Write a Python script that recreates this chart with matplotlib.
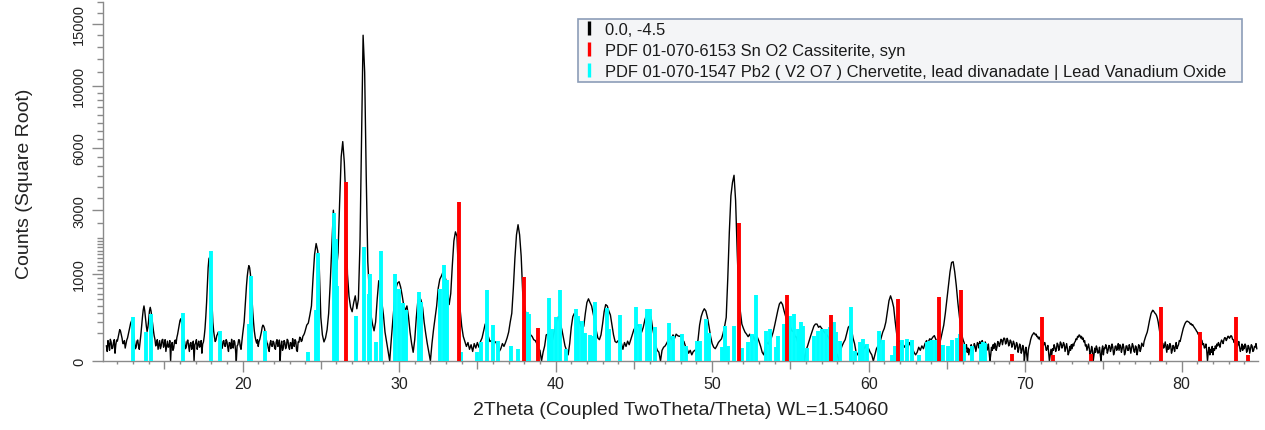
import numpy as np
import matplotlib
matplotlib.use("Agg")
import matplotlib.pyplot as plt
from matplotlib.lines import Line2D
from matplotlib.ticker import FixedLocator, NullFormatter

plt.rcParams['font.family'] = ['Liberation Sans', 'DejaVu Sans']

# measured scan, read off the picture in three stretches:
# flat noisy parts on a 0.05 deg grid, the peak-rich middle on a 0.1 deg grid
bg_low_start, bg_low_step = 11.3, 0.05
counts_11_23 = [
    30, 12, 55, 38, 15, 62, 48, 20, 22, 45, 60, 8, 35, 58,
    52, 75, 100, 130, 118, 90, 68, 40, 40, 55, 22, 38, 58, 70, 95, 125, 160, 190, 210, 220,
    140, 85, 48, 20, 25, 52, 58, 30, 18, 45, 90, 160, 250, 340, 400, 330, 240, 160, 115, 150,
    220, 330, 380, 330, 255, 180, 125, 85, 62, 30, 40, 60, 18, 35, 55, 20, 30, 58, 62, 25,
    38, 60, 12, 30, 52, 25, 28, 55, 0, 35, 45, 15, 22, 50, 58, 40, 72, 95, 130, 175,
    215, 235, 200, 140, 88, 60, 48, 20, 25, 50, 58, 30, 12, 40, 45, 18, 28, 52, 0, 35,
    42, 60, 18, 35, 52, 25, 30, 55, 8, 38, 48, 80, 140, 260, 450, 750, 1150, 1380, 1420, 1200,
    800, 420, 200, 120, 78, 50, 58, 85, 95, 110, 100, 70, 42, 20, 22, 50, 55, 30, 28, 60,
    50, 25, 12, 45, 42, 20, 62, 35, 22, 55, 48, 15, 0, 30, 35, 60, 58, 28, 18, 48,
    90, 140, 200, 350, 550, 750, 950, 1100, 1200, 1150, 1000, 750, 500, 320, 200, 120, 78, 55, 42, 60,
    28, 50, 62, 85, 110, 150, 170, 160, 140, 100, 68, 45, 38, 20, 12, 40, 55, 30, 28, 52,
    45, 22, 18, 48, 60, 28, 32, 58, 0, 30, 52, 15, 22, 55, 46, 20, 28, 62, 56, 25,
    18, 45, 42, 20, 66, 35, 28, 60, 52, 15, 12, 48, 46, 75, 70, 50, 55, 80, 88, 100,
]

mid_start, mid_step = 24.0, 0.1
counts_24_29 = [
    120, 170, 190, 280, 400, 900, 1500, 1820, 1600, 1150,
    250, 90, 48, 70, 130, 300, 800, 1700, 3000, 2300,
    1100, 1550, 3300, 5500, 6350, 5200, 3300, 1000, 550, 380,
    320, 450, 560, 360, 500, 1800, 6500, 14000, 11000, 4500,
    1300, 600, 280, 180, 120, 200, 500, 850, 750, 450,
    280, 110, 50, 15, 0, 60, 220, 450, 700, 800,
]
counts_30_39 = [
    830, 720, 560, 400, 340, 400, 260, 110, 40, 10,
    60, 250, 480, 540, 490, 380, 200, 100, 40, 10,
    0, 40, 130, 250, 400, 700, 880, 950, 1040, 980,
    850, 650, 420, 600, 1200, 1900, 2200, 2050, 900, 350,
    160, 80, 50, 28, 45, 18, 35, 12, 40, 22,
    45, 25, 50, 70, 120, 180, 150, 80, 50, 55,
    35, 50, 45, 22, 12, 20, 40, 28, 45, 70,
    110, 200, 300, 700, 1400, 2100, 2450, 2100, 1450, 600,
    420, 290, 220, 150, 90, 80, 60, 55, 40, 20,
    15, 0, 10, 30, 90, 95, 70, 50, 60, 110,
]
counts_40_49 = [
    170, 240, 260, 180, 130, 70, 30, 15, 5, 40,
    150, 260, 300, 270, 240, 220, 170, 140, 160, 300,
    450, 510, 450, 400, 300, 210, 120, 70, 60, 90,
    180, 320, 420, 400, 330, 280, 170, 90, 50, 45,
    55, 32, 42, 18, 45, 28, 52, 35, 60, 90,
    130, 150, 170, 170, 130, 110, 150, 220, 280, 330,
    300, 250, 140, 80, 30, 15, 10, 0, 15, 25,
    30, 42, 58, 75, 60, 90, 68, 95, 85, 80,
    85, 58, 50, 28, 20, 8, 15, 5, 12, 15,
    20, 60, 170, 260, 320, 360, 330, 250, 160, 80,
]
counts_50_59 = [
    40, 25, 20, 30, 45, 55, 65, 100, 160, 250,
    900, 2200, 3600, 4200, 4550, 3400, 1600, 600, 330, 180,
    140, 110, 95, 78, 95, 68, 85, 58, 90, 72,
    50, 28, 10, 5, 25, 45, 38, 60, 75, 110,
    170, 250, 340, 430, 460, 420, 330, 260, 200, 170,
    150, 120, 115, 78, 75, 35, 38, 12, 18, 0,
    15, 30, 55, 85, 120, 160, 180, 180, 150, 160,
    140, 120, 105, 95, 80, 60, 50, 35, 20, 10,
    5, 0, 15, 30, 45, 60, 100, 150, 165, 140,
    70, 40, 10, 5, 15, 25, 15, 20, 30, 15,
]
counts_60_65 = [
    20, 10, 5, 0, 5, 20, 30, 40, 70, 110,
    140, 200, 330, 480, 560, 480, 380, 200, 90, 60,
    45, 30, 35, 25, 40, 20, 45, 30, 20, 10,
    5, 10, 25, 15, 30, 20, 40, 55, 45, 65,
    60, 75, 85, 60, 50, 35, 60, 110, 170, 300,
    500, 750, 1050, 1280, 1300, 1050, 750, 450, 260, 130,
]

bg_high_start, bg_high_step = 66.0, 0.05
counts_66_84 = [
    70, 55, 45, 28, 20, 35, 10, 22, 5, 18, 15, 35, 25, 8, 20, 40, 30, 12, 25, 45,
    40, 22, 50, 30, 35, 55, 45, 18, 30, 48, 35, 15, 20, 38, 10, 0, 5, 25, 15, 35,
    20, 42, 35, 15, 25, 50, 45, 28, 40, 62, 60, 35, 55, 70, 65, 38, 45, 68, 55, 30,
    40, 58, 50, 25, 35, 52, 40, 18, 25, 45, 35, 10, 20, 38, 30, 8, 15, 32, 20, 0,
    10, 25, 5, 0, 15, 28, 40, 60, 75, 88, 95, 105, 100, 90, 95, 78, 80, 65, 75, 60,
    60, 40, 50, 32, 35, 45, 30, 15, 20, 32, 10, 0, 5, 18, 5, 20, 15, 35, 25, 12,
    20, 42, 35, 15, 25, 48, 40, 22, 30, 45, 35, 12, 25, 40, 20, 5, 10, 28, 15, 35,
    20, 38, 30, 45, 50, 65, 60, 80, 75, 90, 85, 70, 80, 62, 70, 48, 55, 30, 35, 15,
    25, 38, 20, 5, 10, 28, 15, 0, 5, 22, 10, 30, 20, 8, 10, 25, 5, 0, 15, 30,
    5, 22, 20, 35, 25, 8, 15, 32, 30, 12, 20, 38, 25, 5, 10, 28, 30, 15, 20, 40,
    15, 35, 30, 10, 20, 38, 25, 5, 10, 30, 30, 15, 15, 35, 25, 8, 20, 40, 30, 12,
    10, 30, 25, 5, 15, 35, 30, 12, 20, 42, 35, 28, 50, 65, 80, 95, 110, 140, 180, 220,
    260, 300, 320, 340, 330, 315, 300, 290, 270, 240, 200, 150, 110, 80, 60, 45, 40, 22, 30, 48,
    25, 10, 35, 18, 20, 40, 30, 8, 15, 32, 25, 12, 30, 45, 20, 28, 35, 55, 50, 70,
    90, 115, 140, 160, 180, 195, 205, 210, 205, 200, 195, 180, 185, 170, 175, 160, 150, 140, 130, 118,
    110, 95, 90, 70, 80, 60, 55, 35, 40, 22, 25, 38, 15, 0, 10, 25, 5, 18, 10, 28,
    5, 20, 15, 30, 20, 38, 30, 45, 35, 25, 45, 58, 50, 40, 60, 72, 70, 55, 65, 80,
    80, 68, 75, 85, 80, 62, 60, 45, 55, 38, 45, 28, 35, 50, 25, 12, 20, 38, 15, 30,
    20, 38, 30, 10, 15, 32, 25, 8, 20, 35, 30, 12, 15, 28, 25, 40, 20,
]

# PDF 01-070-6153 SnO2 cassiterite stick pattern
cass_pos = [26.61, 33.80, 37.97, 38.90, 51.72, 54.77, 57.58, 61.90, 64.50,
            65.90, 69.18, 71.05, 71.76, 74.19, 78.66, 81.15, 83.48, 84.22]
cass_int = [4227, 3350, 925, 144, 2520, 575, 283, 507, 545,
            665, 7, 252, 4, 6, 380, 113, 252, 5]

# PDF 01-070-1547 Pb2V2O7 chervetite stick pattern
cherv_pos = [12.98, 13.80, 14.15, 16.17, 17.96, 18.56, 20.42, 20.53, 21.45,
             24.21, 24.66, 24.84, 25.83, 25.98, 26.06, 27.23, 27.77, 28.07,
             28.12, 28.53, 28.83, 29.77, 30.00, 30.22, 30.45, 31.25, 31.42,
             32.60, 32.90, 33.03, 33.94, 34.96, 35.22, 35.60, 36.02, 36.34,
             37.14, 37.62, 38.15, 38.30, 39.55, 39.75, 40.03, 40.30, 40.68,
             41.30, 41.45, 41.70, 41.88, 42.20, 42.37, 42.52, 43.27, 43.44,
             44.10, 45.14, 45.37, 45.87, 46.01, 46.38, 47.27, 47.48, 48.09,
             48.30, 49.02, 49.23, 49.62, 49.78, 50.61, 50.82, 51.03, 51.42,
             51.94, 52.31, 52.53, 52.79, 53.43, 53.70, 54.06, 54.19, 54.58,
             54.98, 55.25, 55.51, 55.70, 55.82, 56.05, 56.50, 56.76, 57.04,
             57.27, 57.54, 57.80, 57.92, 58.15, 58.87, 59.13, 59.45, 59.64,
             59.90, 60.69, 60.92, 61.47, 61.68, 61.88, 62.15, 62.44, 62.78,
             63.24, 63.71, 63.85, 64.06, 64.29, 64.62, 64.78, 65.08, 65.32,
             65.63, 65.82, 66.08, 66.62, 67.15, 67.30, 67.45]
cherv_int = [255, 110, 291, 302, 1605, 118, 176, 960, 121,
             10, 345, 1550, 2900, 1975, 740, 265, 1706, 600,
             999, 48, 1595, 999, 678, 440, 340, 634, 455,
             684, 1216, 870, 11, 11, 46, 660, 170, 54,
             30, 19, 313, 291, 521, 135, 252, 660, 19,
             357, 271, 214, 100, 90, 84, 455, 373, 135,
             275, 380, 180, 357, 357, 150, 194, 84, 96,
             31, 54, 54, 230, 100, 25, 157, 31, 164,
             23, 50, 96, 575, 120, 135, 25, 84, 181,
             265, 291, 135, 197, 164, 22, 84, 120, 135,
             137, 150, 198, 108, 55, 380, 14, 46, 64,
             37, 121, 59, 4, 31, 50, 59, 66, 59,
             4, 46, 51, 59, 60, 35, 34, 31, 59,
             68, 96, 40, 31, 40, 48, 45]

legend_labels = ['0.0, -4.5',
                 'PDF 01-070-6153 Sn O2 Cassiterite, syn',
                 'PDF 01-070-1547 Pb2 ( V2 O7 ) Chervetite, lead divanadate | Lead Vanadium Oxide']

y_major = [0, 1000, 3000, 6000, 10000, 15000]
x_major = [20, 30, 40, 50, 60, 70, 80]

counts_mid = np.concatenate([counts_24_29, counts_30_39, counts_40_49,
                             counts_50_59, counts_60_65])
tt_low = bg_low_start + bg_low_step * np.arange(len(counts_11_23))
tt_mid = mid_start + mid_step * np.arange(len(counts_mid))
tt_high = bg_high_start + bg_high_step * np.arange(len(counts_66_84))
two_theta = np.concatenate([tt_low, tt_mid, tt_high])
counts = np.concatenate([counts_11_23, counts_mid, counts_66_84])

fig = plt.figure(figsize=(12.65, 4.31), dpi=100)
ax = fig.add_axes([0.0814, 0.1601, 0.9131, 0.8329])

ax.plot(two_theta, counts, color='black', lw=1.0, zorder=2)
ax.vlines(cherv_pos, 0, cherv_int, color='#00FFFF', lw=2.8, capstyle='butt', zorder=3)
ax.vlines(cass_pos, 0, cass_int, color='#FF0000', lw=2.8, capstyle='butt', zorder=4)

ax.set_yscale('function', functions=(lambda v: np.sqrt(np.clip(v, 0, None)), np.square))
ax.set_ylim(0, 17000)
ax.set_xlim(11.08, 84.88)

for s in ['top', 'right']:
    ax.spines[s].set_visible(False)
for s in ['left', 'bottom']:
    ax.spines[s].set_color('#8a8a8a')
    ax.spines[s].set_linewidth(1.0)

ax.set_yticks(y_major)
ax.set_yticklabels([str(v) for v in y_major], rotation=90, va='center')
minor_y = [v for v in range(100, 2000, 100) if v != 1000] + \
          [v for v in range(2000, 10000, 500) if v not in (3000, 6000)] + \
          [v for v in range(11000, 18000, 1000) if v != 15000]
ax.yaxis.set_minor_locator(FixedLocator(minor_y))
ax.yaxis.set_minor_formatter(NullFormatter())

ax.set_xticks(x_major)
ax.xaxis.set_minor_locator(FixedLocator([v for v in range(12, 85) if v % 5 != 0]))
ax.xaxis.set_minor_formatter(NullFormatter())

ax.tick_params(axis='both', which='both', color='#8a8a8a', width=1.0, direction='out')
ax.tick_params(axis='x', which='major', length=8, pad=3, labelsize=11.5, labelcolor='#222222')
ax.tick_params(axis='x', which='minor', length=2.5)
ax.tick_params(axis='y', which='major', length=8, pad=4, labelsize=10.5, labelcolor='#222222')
ax.tick_params(axis='y', which='minor', length=4)

# medium ticks every 5 degrees
sec = ax.secondary_xaxis('bottom')
sec.set_xticks([15, 25, 35, 45, 55, 65, 75, 85])
sec.set_xticklabels([])
sec.tick_params(length=5.5, width=1.0, color='#8a8a8a')
sec.spines['bottom'].set_visible(False)

ax.set_xlabel('2Theta (Coupled TwoTheta/Theta) WL=1.54060', fontsize=14, color='#222222')
ax.xaxis.set_label_coords(0.5, -0.112)
ax.xaxis.label.set_va('top')
ax.set_ylabel('Counts (Square Root)', fontsize=14, color='#222222')
ax.yaxis.set_label_coords(-0.0606, 0.495)

handles = [Line2D([0], [0], color=c, marker='|', linestyle='None',
                  markersize=9.5, markeredgewidth=2.4)
           for c in ['black', '#FF0000', '#00FFFF']]
leg = ax.legend(handles, legend_labels, loc='upper left',
                bbox_to_anchor=(578 / 1265, 1 - 82 / 431, (1242 - 578) / 1265, 62 / 431),
                bbox_transform=fig.transFigure, mode='expand', borderaxespad=0,
                fontsize=11.9, frameon=True, fancybox=False, handlelength=0.9,
                handletextpad=0.55, borderpad=0.19, labelspacing=0.35, numpoints=1)
leg.get_frame().set_edgecolor('#8c9db8')
leg.get_frame().set_facecolor('#f4f5f7')
leg.get_frame().set_linewidth(1.2)
leg.get_frame().set_alpha(1)
for t in leg.get_texts():
    t.set_color('#1a1a1a')

fig.savefig('out.png', dpi=100)
